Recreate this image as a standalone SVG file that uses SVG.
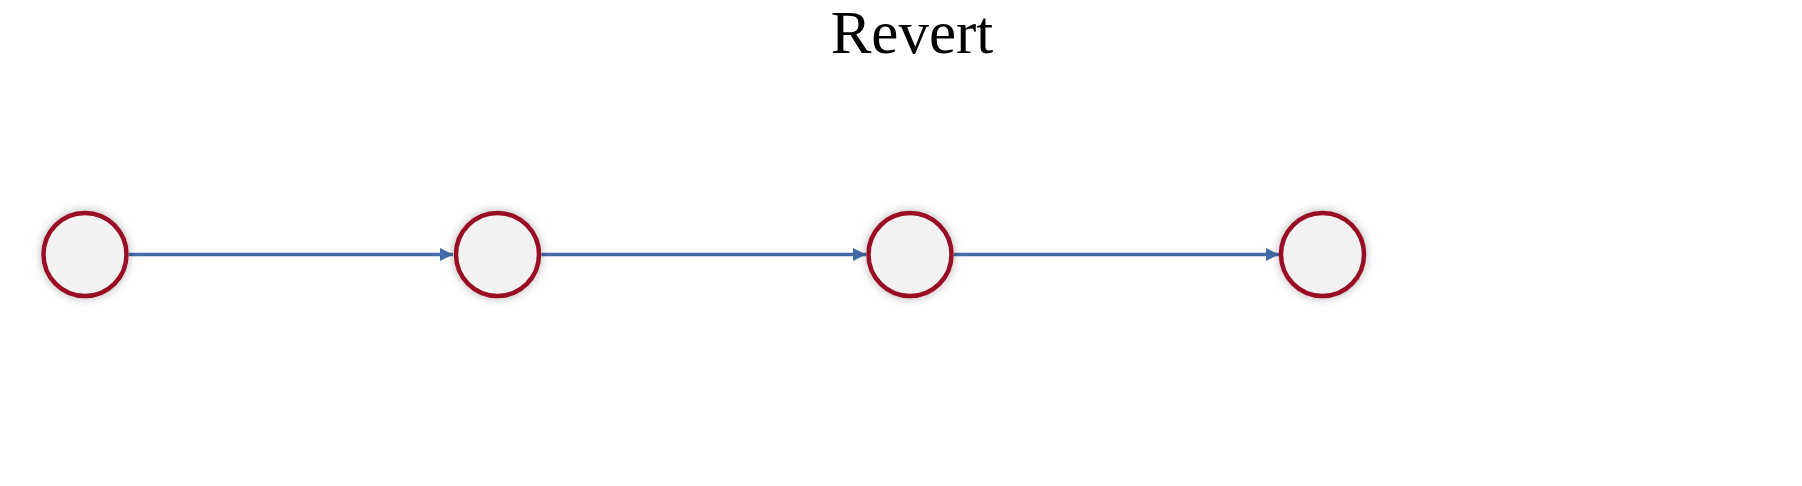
<svg xmlns="http://www.w3.org/2000/svg" width="1802" height="486" viewBox="0 0 1802 486">
<style>
.node{fill:#f2f2f2;stroke:#9a1026;stroke-width:4.5;filter:url(#sh)}
.edge{stroke:#4469a8;stroke-width:3.5;fill:none;marker-end:url(#arr)}
.title{font-family:"Liberation Serif",serif;font-size:61px;fill:#000;text-anchor:middle}
</style>
<defs>
<filter id="sh" x="-50%" y="-50%" width="200%" height="200%">
<feDropShadow dx="0" dy="0" stdDeviation="5" flood-color="#000" flood-opacity="0.3"/>
</filter>
<marker id="arr" markerWidth="13" markerHeight="13" refX="13" refY="6.5" orient="auto" markerUnits="userSpaceOnUse">
<path d="M0,0 L13,6.5 L0,13 Z" fill="#4469a8"/>
</marker>
</defs>
<rect width="1802" height="486" fill="#fff"/>
<text class="title" x="912" y="53">Revert</text>
<g id="connectors">
<line class="edge" x1="129" y1="254.5" x2="453" y2="254.5"/>
<line class="edge" x1="541.5" y1="254.5" x2="866" y2="254.5"/>
<line class="edge" x1="954" y1="254.5" x2="1279" y2="254.5"/>
</g>
<g id="n1"><circle class="node" cx="85" cy="254.5" r="41.5"/></g>
<g id="n2"><circle class="node" cx="497.5" cy="254.5" r="41.5"/></g>
<g id="n3"><circle class="node" cx="910" cy="254.5" r="41.5"/></g>
<g id="n4"><circle class="node" cx="1322.5" cy="254.5" r="41.5"/></g>
</svg>
